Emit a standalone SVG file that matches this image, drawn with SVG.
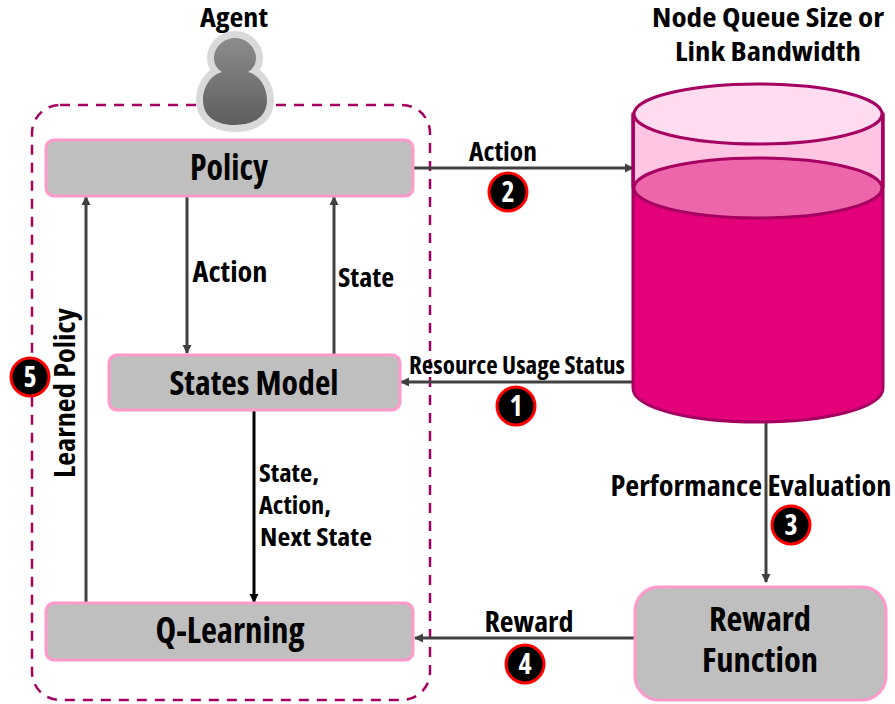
<svg xmlns="http://www.w3.org/2000/svg" width="895" height="704" viewBox="0 0 895 704">
<defs>
<marker id="arr" markerWidth="10" markerHeight="10" refX="8" refY="5" orient="auto" markerUnits="userSpaceOnUse"><path d="M0 .5L9 5L0 9.5Z" fill="#404040"/></marker>
<marker id="arrk" markerWidth="10" markerHeight="10" refX="8" refY="5" orient="auto" markerUnits="userSpaceOnUse"><path d="M0 .5L9 5L0 9.5Z" fill="#000"/></marker>
<linearGradient id="head" x1="0" y1="0" x2="0" y2="1"><stop offset="0" stop-color="#8c8c8c"/><stop offset="1" stop-color="#5e5e5e"/></linearGradient>
</defs>
<style>
text{font-family:"Open Sans","Liberation Sans",sans-serif;font-weight:700;font-stretch:75%;fill:#000;text-anchor:middle}
.box{fill:#bfbfbf;stroke:#ff99cc;stroke-width:3}
.c{fill:none;stroke:#404040;stroke-width:3}
.num{fill:#000;stroke:#f00;stroke-width:3}
.cyl{stroke:#a50061;stroke-width:3}
</style>
<rect id="agent-boundary" x="32" y="105" width="398" height="595" rx="28" fill="none" stroke="#a50061" stroke-width="2.5" stroke-dasharray="10 8"/>
<g id="agent">
<path d="M235 38C247 38 256 48 256 58C256 64 253 69 248 72C260 75 267 88 267 100C267 118 252 125 235 125C218 125 203 118 203 100C203 88 210 75 222 72C217 69 214 64 214 58C214 48 223 38 235 38Z" fill="url(#head)" stroke="#d9d9d9" stroke-width="14" stroke-linejoin="round" paint-order="stroke"/>
<text x="234" y="27" font-size="26" textLength="68" lengthAdjust="spacingAndGlyphs">Agent</text>
</g>
<g id="connectors">
<path class="c" d="M413 168H633" marker-end="url(#arr)"/>
<path class="c" d="M187 196V353" marker-end="url(#arr)"/>
<path class="c" d="M334 354V197" marker-end="url(#arr)"/>
<path class="c" d="M633 382H401" marker-end="url(#arr)"/>
<path d="M254 410V602" fill="none" stroke="#000" stroke-width="3" marker-end="url(#arrk)"/>
<path class="c" d="M86 602V197" marker-end="url(#arr)"/>
<path class="c" d="M766 422V582" marker-end="url(#arr)"/>
<path class="c" d="M634 638H415" marker-end="url(#arr)"/>
</g>
<g id="policy"><rect class="box" x="46" y="140" width="367" height="56" rx="8"/><text x="229" y="180" font-size="35" textLength="78" lengthAdjust="spacingAndGlyphs">Policy</text></g>
<g id="states-model"><rect class="box" x="109" y="355" width="291" height="55" rx="8"/><text x="254" y="395" font-size="34" textLength="169" lengthAdjust="spacingAndGlyphs">States Model</text></g>
<g id="q-learning"><rect class="box" x="46" y="603" width="367" height="57" rx="8"/><text x="230" y="643" font-size="35" textLength="149" lengthAdjust="spacingAndGlyphs">Q-Learning</text></g>
<g id="reward-function"><rect class="box" x="635" y="587" width="251" height="113" rx="24"/><text x="760" y="631" font-size="33" textLength="102" lengthAdjust="spacingAndGlyphs">Reward</text><text x="760" y="672" font-size="33" textLength="116" lengthAdjust="spacingAndGlyphs">Function</text></g>
<g id="database">
<path class="cyl" d="M633 114V388C633 408 690 422 758 422C826 422 883 408 883 388V114Z" fill="#e3007a"/>
<path d="M635 114V188C660 165 710 158 758 158C806 158 860 165 881 188V114Z" fill="#ffc5e3"/>
<path class="cyl" d="M633 114V188M883 114V188" fill="none"/>
<ellipse class="cyl" cx="758" cy="114" rx="124" ry="30" fill="#ffdcf0"/>
<ellipse class="cyl" cx="758" cy="188" rx="124" ry="30" fill="#ee66aa"/>
<text x="768" y="27" font-size="26" textLength="232" lengthAdjust="spacingAndGlyphs">Node Queue Size or</text>
<text x="768" y="61" font-size="26" textLength="186" lengthAdjust="spacingAndGlyphs">Link Bandwidth</text>
</g>
<g id="labels">
<text x="503" y="161" font-size="26" textLength="68" lengthAdjust="spacingAndGlyphs">Action</text>
<text x="230" y="282" font-size="28" textLength="75" lengthAdjust="spacingAndGlyphs">Action</text>
<text x="366" y="287" font-size="26" textLength="56" lengthAdjust="spacingAndGlyphs">State</text>
<text x="517" y="374" font-size="25" textLength="216" lengthAdjust="spacingAndGlyphs">Resource Usage Status</text>
<text x="259" y="482" font-size="25" textLength="60" lengthAdjust="spacingAndGlyphs" style="text-anchor:start">State,</text>
<text x="259" y="514" font-size="25" textLength="72" lengthAdjust="spacingAndGlyphs" style="text-anchor:start">Action,</text>
<text x="260" y="546" font-size="25" textLength="112" lengthAdjust="spacingAndGlyphs" style="text-anchor:start">Next State</text>
<text x="751" y="496" font-size="29" textLength="281" lengthAdjust="spacingAndGlyphs">Performance Evaluation</text>
<text x="529" y="632" font-size="28" textLength="89" lengthAdjust="spacingAndGlyphs">Reward</text>
<text transform="translate(75,393) rotate(-90)" font-size="28" textLength="170" lengthAdjust="spacingAndGlyphs">Learned Policy</text>
</g>
<g id="badge-1"><circle class="num" cx="516" cy="406" r="19"/><text x="516" y="416" font-size="28" style="fill:#fff">1</text></g>
<g id="badge-2"><circle class="num" cx="508" cy="192" r="19"/><text x="508" y="202" font-size="28" style="fill:#fff">2</text></g>
<g id="badge-3"><circle class="num" cx="791" cy="525" r="19"/><text x="791" y="535" font-size="28" style="fill:#fff">3</text></g>
<g id="badge-4"><circle class="num" cx="525" cy="664" r="19"/><text x="525" y="674" font-size="28" style="fill:#fff">4</text></g>
<g id="badge-5"><circle class="num" cx="30" cy="377" r="19"/><text x="30" y="387" font-size="28" style="fill:#fff">5</text></g>
</svg>
